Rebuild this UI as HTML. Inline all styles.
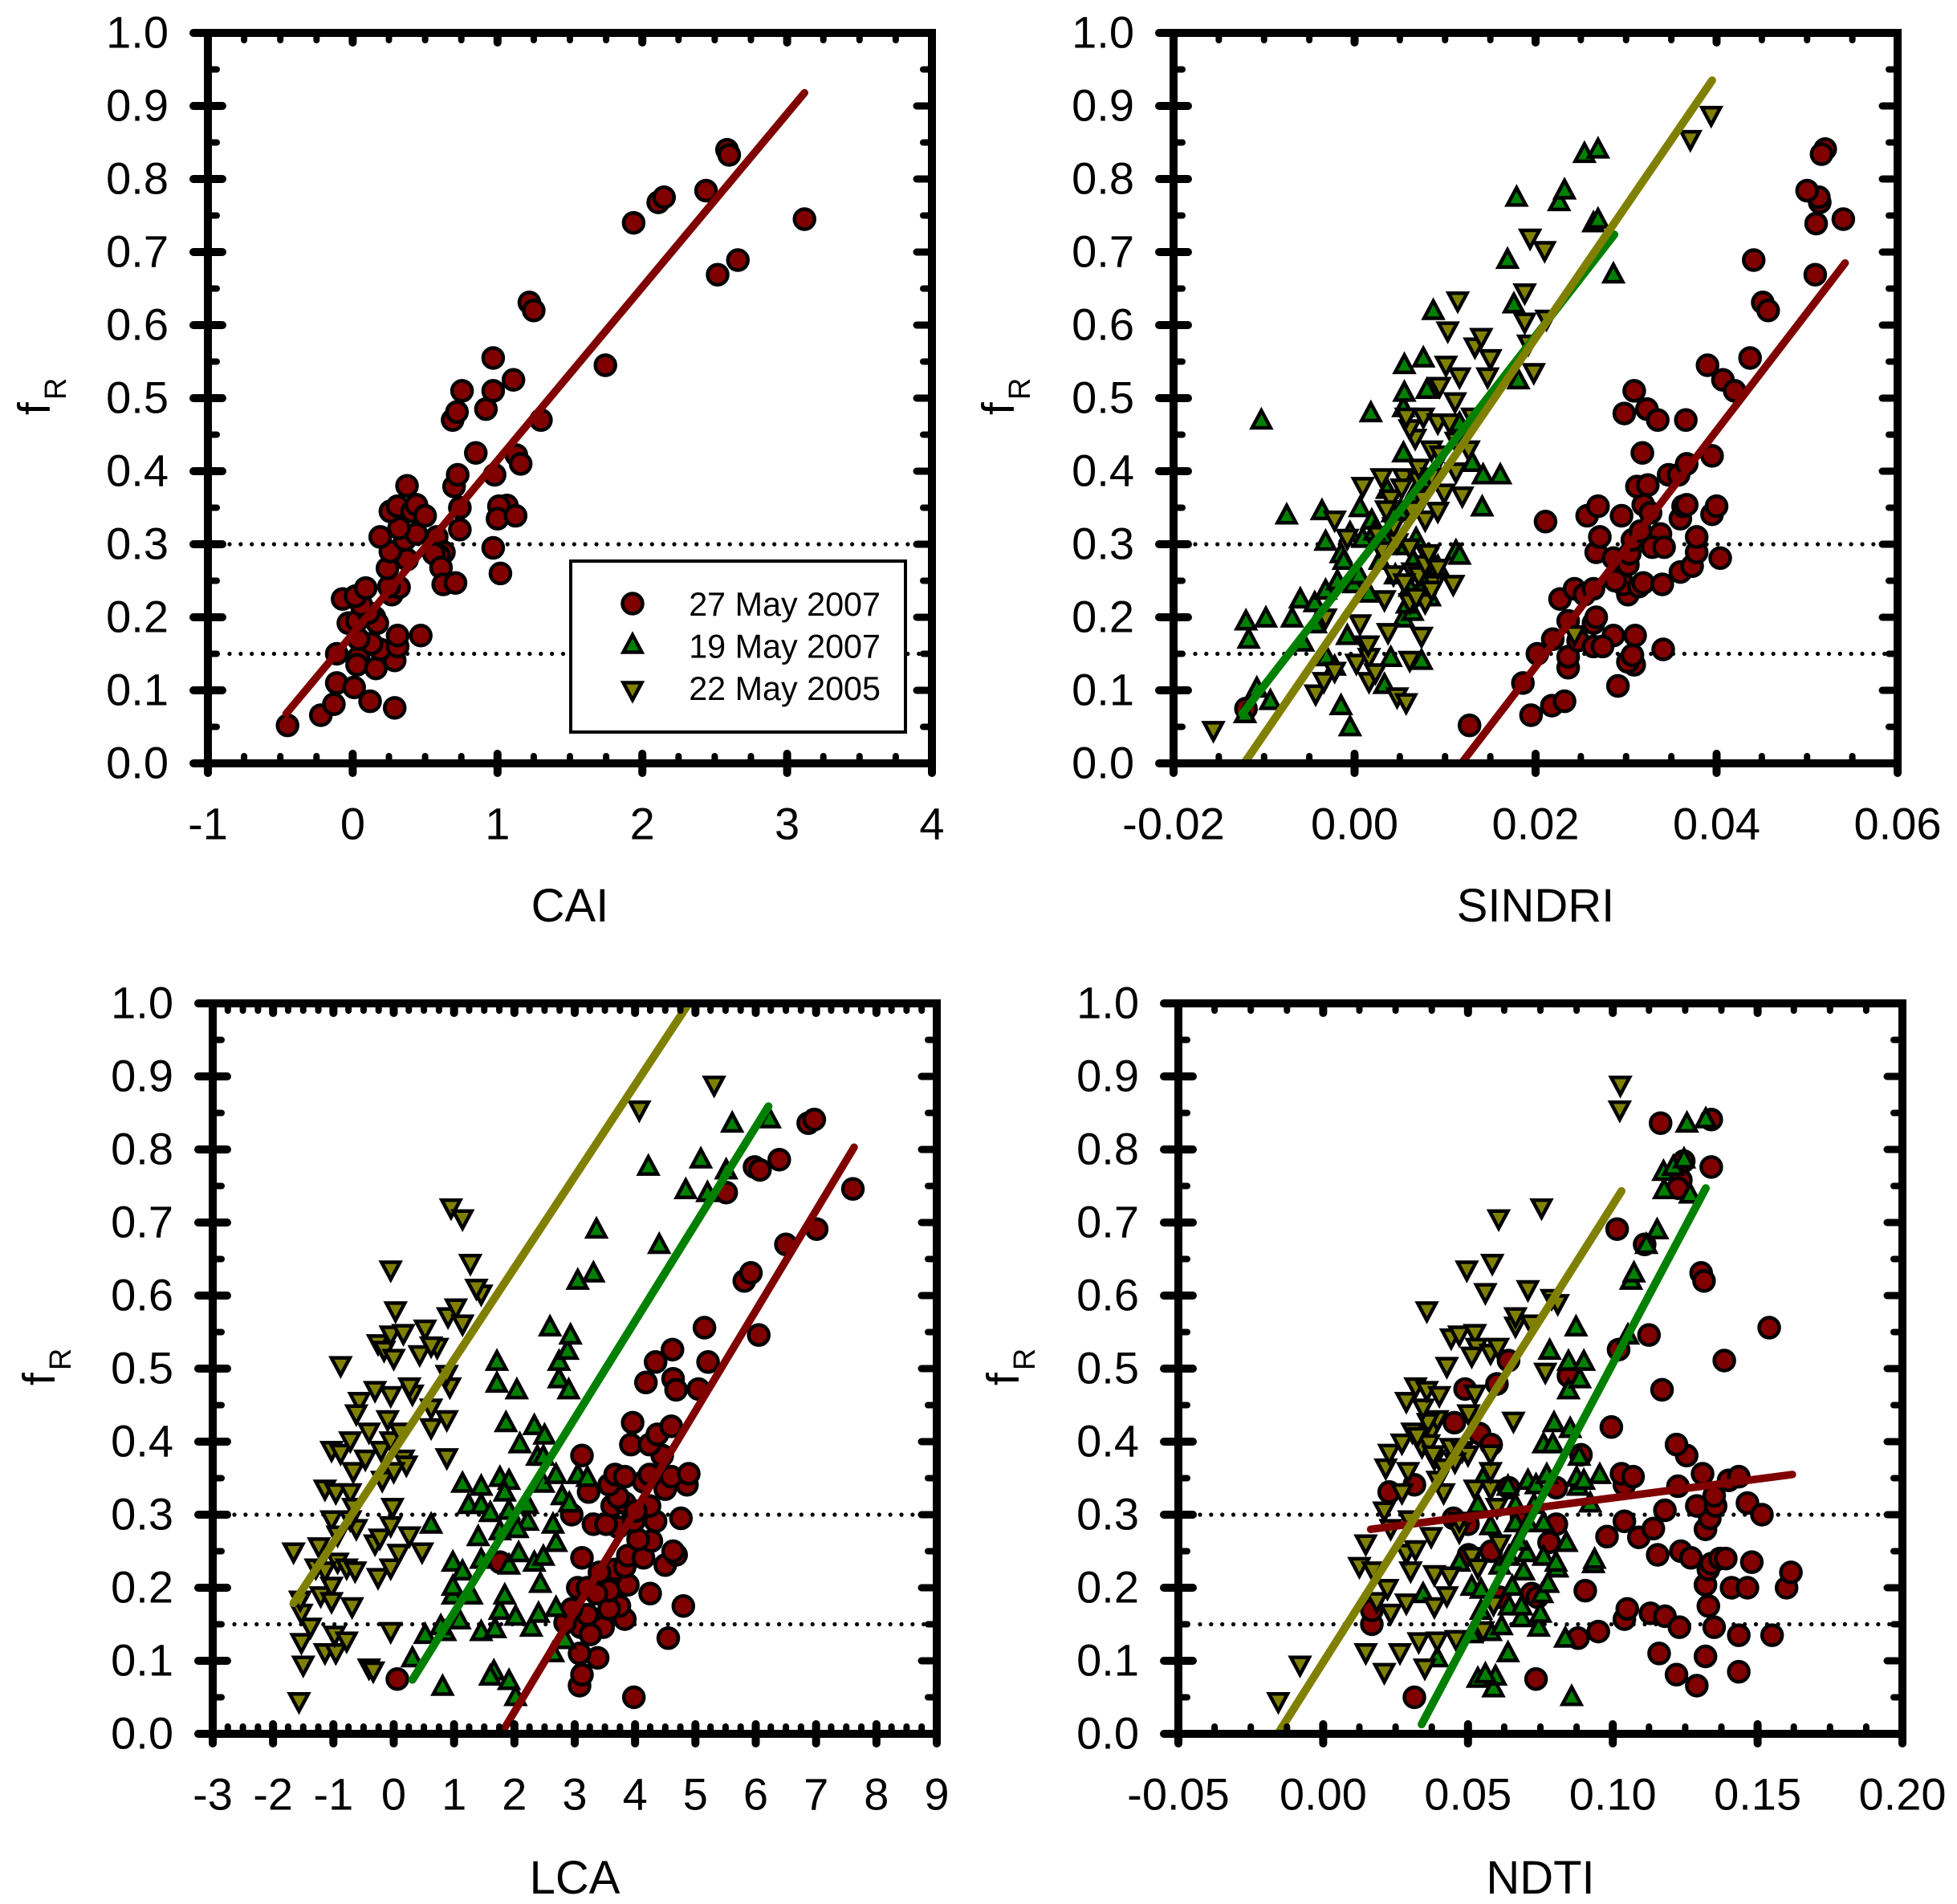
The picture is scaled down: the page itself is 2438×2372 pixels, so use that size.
<!DOCTYPE html>
<html>
<head>
<meta charset="utf-8">
<title>fR versus crop residue indices</title>
<style>
html,body{margin:0;padding:0;background:#fff;}
svg{display:block;}
text{font-family:"Liberation Sans",sans-serif;fill:#000;}
</style>
</head>
<body>
<svg id="chart" xmlns="http://www.w3.org/2000/svg" width="2438" height="2372" viewBox="0 0 2438 2372"></svg>
<script>
// ---------- Shared axis data ----------
const yTickLabels = ["0.0","0.1","0.2","0.3","0.4","0.5","0.6","0.7","0.8","0.9","1.0"];
const thresholdValues = [0.15, 0.3];
const seriesNames = ["27 May 2007","19 May 2007","22 May 2005"];

// ---------- CAI panel ----------
const caiTickLabels = ["-1","0","1","2","3","4"];
const caiRedX = [-.45,-.22,-.13,-.11,.01,.12,.29,-.11,.04,.03,.16,.29,.19,.13,.31,.31,.47,.04,-.03,.03,.15,.17,.11,.06,-.07,.02,.09,.27,.32,.25,.24,.375,.26,.19,.36,.44,.32,.26,.31,.41,.44,.5,.375,.58,.63,.595,.56,.61,.625,.71,.7,.725,.74,.74,.69,.72,.755,.85,.92,.97,.97,1.11,.98,1.065,1.01,1.0,1.125,.97,1.02,1.13,1.16,1.3,1.22,1.25,1.745,1.94,2.11,2.15,2.44,2.585,2.6,2.52,2.66,3.12];
const caiRedY = [.052,.066,.081,.11,.104,.085,.076,.15,.145,.135,.13,.141,.156,.164,.16,.175,.175,.17,.192,.195,.2,.192,.206,.217,.225,.229,.24,.231,.241,.242,.267,.279,.29,.31,.306,.314,.322,.345,.352,.345,.354,.339,.38,.31,.289,.285,.287,.268,.245,.247,.379,.395,.35,.32,.47,.481,.51,.425,.485,.51,.555,.525,.395,.353,.352,.335,.339,.295,.26,.422,.41,.47,.631,.62,.545,.74,.768,.775,.784,.84,.833,.669,.689,.745];
const caiRedLineX = [-.46,3.12];
const caiRedLineY = [.068,.918];

// ---------- SINDRI panel ----------
const sindriTickLabels = ["-0.02","0.00","0.02","0.04","0.06"];
const sindriRedX = [.0127,.0195,.0218,.0232,.0186,-.012,.0291,.0309,.0302,.0307,.0341,.031,.0286,.0202,.0219,.0236,.0236,.0247,.0264,.0274,.0236,.0264,.0267,.0227,.0243,.0254,.0264,.0302,.0297,.0288,.0314,.0319,.034,.036,.0373,.0404,.0267,.0286,.0302,.0304,.0271,.0307,.0316,.0338,.0329,.0342,.0378,.0378,.0211,.0257,.0269,.0295,.0319,.0327,.036,.0363,.0367,.0395,.04,.0312,.0324,.0347,.0358,.0367,.0395,.0318,.0298,.0323,.0335,.0366,.0309,.039,.0407,.042,.0437,.0441,.0451,.0457,.0509,.051,.0514,.0513,.05,.052,.0516,.054];
const sindriRedY = [.052,.066,.079,.085,.11,.075,.106,.135,.139,.148,.156,.175,.175,.15,.17,.131,.146,.168,.16,.16,.195,.192,.2,.225,.239,.231,.239,.231,.245,.25,.242,.247,.245,.262,.27,.281,.289,.281,.272,.287,.31,.306,.318,.314,.296,.296,.289,.31,.331,.339,.352,.339,.354,.343,.335,.352,.354,.341,.352,.379,.381,.395,.395,.41,.421,.425,.479,.485,.47,.47,.51,.545,.525,.51,.555,.689,.631,.62,.669,.739,.768,.775,.784,.841,.834,.745];
const sindriGreenX = [-.0121,-.0108,-.0093,-.0117,-.012,-.0098,-.0103,-.0075,-.0069,-.006,-.0044,-.0057,-.0043,-.0015,-.0005,-.0031,-.0022,-.0032,-.0019,-.0001,-.0032,-.0036,-.0015,-.0005,.0009,.0006,.0019,.0036,-.0008,.0016,.0033,.004,.0054,.0064,.0078,.0061,.0092,.0074,.005,.0054,.0054,.0055,.0055,.0076,.008,.0018,.0087,.0116,.013,.0142,.0161,.0141,.0112,.0116,.0181,.0169,.0176,.0179,.0226,.0232,.0254,.0269,.0264,.0269,.0286,.0028,.0045,.0035,.0048,.0005,.0065,.0072,.0083,.0058,.0042,.0022,.0068,.0075,.0065,-.0012];
const sindriGreenY = [.07,.105,.088,.172,.197,.201,.472,.342,.201,.227,.222,.168,.193,.081,.052,.148,.135,.239,.252,.248,.306,.348,.289,.318,.31,.352,.335,.377,.177,.235,.11,.147,.201,.21,.252,.243,.272,.143,.347,.427,.489,.51,.548,.557,.514,.482,.622,.468,.414,.397,.397,.353,.293,.287,.527,.692,.631,.777,.771,.787,.837,.843,.742,.747,.672,.28,.26,.31,.3,.26,.28,.24,.23,.22,.345,.32,.31,.39,.37,.28];
const sindriOliveX = [-.0156,-.0043,-.0034,-.0022,-.0032,.0002,.0012,.0016,.0016,.0023,.0006,.0037,.0047,.0057,.0061,.0074,.0033,.0061,.0078,.0088,.0109,.0043,.0064,.0081,.0061,.0078,.003,.0026,.0043,-.0008,-.0022,.0009,.003,.004,.0054,.0071,.0092,.0099,.0119,.0112,.0126,.0112,.0085,.0071,.0067,.0061,.0076,.0057,.0092,.0105,.013,.0111,.0094,.0101,.0116,.0147,.015,.0133,.014,.0103,.0114,.0188,.0212,.0188,.0192,.0198,.0194,.021,.0243,.0371,.0394,.0071,.0085,.0078,.0092,.0068,.0055,.0082,.0047,.0062,.0075,.0035,.0085,.0095,.0052,.0015];
const sindriOliveY = [.043,.093,.11,.124,.197,.135,.16,.143,.11,.122,.189,.177,.089,.081,.139,.172,.222,.218,.218,.243,.243,.256,.26,.281,.293,.331,.289,.31,.322,.306,.331,.377,.389,.36,.389,.385,.343,.368,.364,.397,.427,.439,.427,.402,.443,.456,.472,.472,.464,.464,.472,.493,.514,.543,.527,.527,.552,.568,.581,.59,.631,.602,.606,.642,.572,.533,.717,.7,.174,.852,.885,.255,.235,.27,.265,.225,.245,.285,.3,.345,.36,.345,.39,.42,.375,.16];
const sindriRedLineX = [.0118,.0542];
const sindriRedLineY = [0,.685];
const sindriGreenLineX = [-.0124,.0287];
const sindriGreenLineY = [.068,.724];
const sindriOliveLineX = [-.0122,.0395];
const sindriOliveLineY = [0,.935];

// ---------- LCA panel ----------
const lcaTickLabels = ["-3","-2","-1","0","1","2","3","4","5","6","7","8","9"];
const lcaRedX = [.06,3.98,3.08,3.12,3.38,3.08,4.55,3.1,3.47,3.26,2.84,3.83,4.8,3.74,3.57,3.21,2.95,4.25,3.57,3.88,3.05,3.21,3.36,3.67,3.41,4.5,4.68,4.63,3.83,3.88,3.12,1.76,4.14,4.27,4.05,3.72,3.31,3.52,3.98,4.34,4.76,2.95,3.62,3.83,4.24,4.01,3.72,3.23,3.57,4.14,4.5,4.86,3.67,3.83,4.24,4.6,4.89,3.12,4.45,3.96,3.93,4.24,4.37,4.6,4.18,4.34,4.62,4.63,4.68,5.05,5.21,5.15,6.05,5.81,5.92,6.5,7.01,5.51,5.98,6.07,6.39,6.87,6.97,7.61];
const lcaRedY = [.075,.05,.066,.081,.104,.11,.131,.146,.146,.136,.152,.157,.175,.175,.171,.163,.171,.192,.196,.204,.2,.2,.192,.225,.221,.231,.245,.25,.229,.244,.241,.235,.241,.264,.266,.283,.287,.287,.291,.291,.295,.3,.312,.316,.312,.305,.324,.331,.341,.345,.335,.341,.355,.352,.355,.352,.356,.381,.381,.426,.396,.396,.41,.421,.481,.509,.526,.486,.471,.472,.509,.556,.546,.62,.631,.67,.691,.741,.776,.772,.786,.836,.841,.746];
const lcaGreenX = [.31,.52,.81,.85,.78,1.09,.98,.98,.98,1.14,1.29,1.45,1.66,1.6,1.91,2.02,1.68,1.76,1.84,2.02,2.28,2.4,2.64,2.84,2.69,2.43,1.45,1.4,1.91,2.07,2.33,2.48,2.69,2.64,2.22,2.05,1.76,.62,1.14,1.24,1.45,1.45,1.6,1.76,1.91,1.84,1.91,2.22,2.48,2.69,2.79,2.91,3.05,3.21,1.86,2.09,2.33,2.5,2.38,2.48,1.71,1.71,2.04,2.74,2.74,2.9,2.88,2.93,2.59,3.05,3.31,3.36,4.4,4.22,4.84,5.2,5.09,5.51,5.61,6.23];
const lcaGreenY = [.106,.138,.067,.142,.15,.158,.192,.204,.237,.225,.192,.142,.088,.081,.075,.053,.146,.171,.192,.163,.148,.167,.113,.131,.175,.208,.241,.272,.233,.25,.237,.245,.264,.289,.293,.283,.28,.289,.345,.316,.341,.316,.305,.353,.349,.333,.308,.316,.345,.357,.328,.318,.357,.353,.428,.399,.424,.411,.382,.382,.482,.512,.473,.488,.512,.473,.527,.548,.559,.623,.633,.693,.672,.779,.747,.743,.789,.774,.838,.844];
const lcaOliveX = [-1.57,-1.5,-1.53,-1.38,-1.53,-1.55,-1.66,-1.24,-1.14,-.96,-.98,-.78,-.41,-.34,-.05,-1.21,-1.03,-1.03,-.69,-1.29,-.93,-1.14,-.78,-.64,-.26,-.05,.08,.47,.26,-.31,-.23,-.05,-.62,-1.03,-.93,-.72,-.02,-1.14,-.96,-.72,-.67,-.19,-.67,-.47,-1.03,-.88,-.72,-.41,-.21,-.05,.16,.21,0,.88,-.1,.1,.62,.88,.62,.31,.26,-.05,-.31,-.57,-.62,.93,.88,-.88,-.26,-.16,0,.43,-.05,.16,.52,.72,.62,.03,.9,1.03,1.14,-.05,1.45,1.37,1.27,.95,1.14,4.07,5.31];
const lcaOliveY = [.042,.092,.123,.144,.163,.181,.247,.254,.109,.109,.133,.125,.088,.084,.138,.187,.2,.179,.172,.225,.233,.221,.225,.221,.212,.225,.245,.247,.269,.258,.266,.283,.279,.291,.27,.291,.308,.333,.328,.328,.308,.345,.357,.374,.386,.382,.399,.411,.386,.399,.374,.366,.357,.376,.428,.411,.417,.428,.444,.463,.473,.461,.468,.453,.436,.473,.49,.502,.532,.523,.512,.517,.544,.546,.552,.527,.529,.577,.569,.581,.559,.633,.6,.608,.642,.718,.703,.852,.886];
const lcaRedLineX = [1.78,7.63];
const lcaRedLineY = [0,.803];
const lcaGreenLineX = [.31,6.21];
const lcaGreenLineY = [.074,.859];
const lcaOliveLineX = [-1.66,4.89];
const lcaOliveLineY = [.179,1.0];

// ---------- NDTI panel ----------
const ndtiTickLabels = ["-0.05","0.00","0.05","0.10","0.15","0.20"];
const ndtiRedX = [.0315,.0735,.0168,.0168,.129,.122,.116,.1435,.132,.1435,.155,.135,.088,.095,.104,.105,.113,.118,.123,.133,.0905,.072,.132,.141,.1465,.16,.1615,.148,.133,.134,.137,.139,.1235,.127,.1155,.109,.098,.114,.132,.104,.1335,.118,.129,.1355,.1465,.1515,.135,.104,.1225,.103,.107,.131,.14,.1435,.1255,.122,.0995,.117,.1385,.154,.1125,.102,.1305,.1315,.111,.1015,.1165,.134,.134,.1245,.1235,.1225,.045,.05,.0502,.058,.049,.06,.064,.0453,.054,.058,.0228,.0315,.064,.0805,.0805,.078,.089,.0847,.0685,.074,.061];
const ndtiRedY = [.05,.075,.15,.169,.066,.081,.11,.085,.106,.135,.135,.146,.131,.14,.157,.171,.165,.161,.146,.175,.196,.192,.204,.2,.2,.2,.221,.235,.225,.233,.24,.24,.25,.241,.245,.269,.27,.281,.28,.291,.295,.306,.312,.312,.316,.3,.326,.341,.339,.356,.352,.356,.347,.352,.381,.396,.42,.471,.511,.556,.546,.526,.631,.62,.67,.691,.836,.841,.776,.784,.758,.747,.295,.287,.245,.25,.472,.479,.511,.426,.411,.396,.331,.341,.337,.337,.287,.262,.382,.49,.295,.187,.187];
const ndtiGreenX = [.0858,.0588,.0595,.0534,.056,.0638,.0394,.0836,.0513,.0578,.0616,.0744,.075,.0685,.0642,.0685,.0545,.0345,.0513,.0545,.0653,.0756,.0776,.0692,.0808,.047,.061,.0642,.0703,.0761,.0804,.084,.0933,.0937,.0675,.0578,.0664,.0707,.0761,.0534,.0664,.0728,.0922,.0638,.0707,.0735,.088,.0552,.0772,.0875,.0955,.09,.0761,.0793,.0797,.0853,.0884,.0847,.0886,.0847,.09,.0782,.0873,.1052,.1063,.1073,.1116,.1153,.1177,.1267,.1175,.1209,.1246,.1256,.1321];
const ndtiGreenY = [.053,.065,.081,.078,.084,.113,.106,.133,.139,.142,.15,.148,.167,.161,.177,.177,.171,.194,.204,.2,.204,.194,.208,.225,.229,.237,.233,.245,.25,.245,.237,.264,.235,.241,.266,.287,.291,.291,.291,.316,.316,.316,.318,.341,.349,.343,.341,.352,.357,.353,.357,.349,.399,.399,.428,.42,.382,.473,.488,.512,.512,.527,.559,.548,.623,.633,.672,.692,.747,.741,.772,.779,.789,.838,.844];
const ndtiOliveX = [-.0155,-.008,.0147,.0211,.0265,.033,.0394,.0459,.0351,.0552,.0287,.0384,.0233,.0185,.0222,.0427,.0125,.0172,.0147,.0302,.0384,.0437,.0287,.0319,.0513,.0534,.0588,.061,.0373,.047,.047,.0297,.0211,.0233,.0272,.0416,.0524,.0578,.06,.0216,.0228,.0293,.0272,.0308,.0341,.0384,.0373,.0416,.047,.0578,.0578,.0502,.0657,.0394,.0362,.0287,.0345,.0319,.0358,.0401,.0524,.0427,.0767,.0442,.047,.0524,.053,.0513,.0578,.0603,.0358,.056,.0664,.0664,.0718,.0707,.0789,.081,.0496,.0584,.0606,.0754,.1024,.1026,.0365,.038,.044,.048,.05,.0455,.0395,.0325];
const ndtiOliveY = [.042,.092,.109,.082,.109,.124,.125,.127,.088,.139,.177,.172,.163,.179,.197,.187,.227,.221,.258,.221,.216,.214,.245,.25,.241,.225,.175,.258,.268,.274,.289,.291,.303,.279,.328,.328,.333,.333,.308,.362,.382,.357,.396,.411,.391,.374,.411,.362,.386,.357,.381,.436,.426,.428,.424,.453,.444,.473,.468,.461,.463,.501,.493,.54,.544,.546,.527,.515,.519,.527,.577,.602,.556,.569,.559,.606,.594,.587,.633,.642,.703,.718,.852,.886,.395,.38,.39,.385,.38,.37,.345,.405];
const ndtiRedLineX = [.0164,.162];
const ndtiRedLineY = [.28,.355];
const ndtiGreenLineX = [.034,.1321];
const ndtiGreenLineY = [.013,.747];
const ndtiOliveLineX = [-.0155,.103];
const ndtiOliveLineY = [.001,.743];

// ---------- Drawing ----------
const NS = "http://www.w3.org/2000/svg";
const svg = document.getElementById("chart");
const RED = "#800000", GREEN = "#008000", OLIVE = "#808000";

function mk(parent, tag, attrs) {
  const el = document.createElementNS(NS, tag);
  for (const k in attrs) el.setAttribute(k, attrs[k]);
  parent.appendChild(el);
  return el;
}

function drawLine(parent, name, x1, y1, x2, y2, width, color) {
  const el = mk(parent, "line", {x1:x1, y1:y1, x2:x2, y2:y2, stroke:color, "stroke-width":width, "stroke-linecap":"round"});
  
  
  return el;
}

function drawMarker(parent, name, shape, cx, cy, color) {
  let el;
  if (shape === "circle") {
    el = mk(parent, "circle", {cx:cx, cy:cy, r:12.5, fill:color, stroke:"#000", "stroke-width":4.5});
  } else {
    const d = shape === "up"
      ? "M" + (cx-11.5) + " " + (cy+11.5) + "L" + (cx+11.5) + " " + (cy+11.5) + "L" + cx + " " + (cy-10) + "Z"
      : "M" + (cx-11.5) + " " + (cy-11.5) + "L" + (cx+11.5) + " " + (cy-11.5) + "L" + cx + " " + (cy+10) + "Z";
    el = mk(parent, "path", {d:d, fill:color, stroke:"#000", "stroke-width":4.5, "stroke-linejoin":"miter", "stroke-miterlimit":10});
  }
  
  
  return el;
}

function drawSeries(parent, seriesName, shape, color, xs, ys, sx, sy) {
  const g = mk(parent, "g", {});
  
  
  const n = Math.min(xs.length, ys.length);
  for (let i = 0; i < n; i++) {
    drawMarker(g, "data-point", shape, sx(xs[i]), sy(ys[i]), color);
  }
}

function drawPanel(p) {
  const g = mk(svg, "g", {});
  
  

  const xMin = parseFloat(p.xLabels[0]);
  const xMax = parseFloat(p.xLabels[p.xLabels.length - 1]);
  const sx = v => p.left + (v - xMin) / (xMax - xMin) * (p.right - p.left);
  const sy = v => p.bottom - v * (p.bottom - p.top);

  // threshold dotted lines
  thresholdValues.forEach(v => {
    const el = mk(g, "line", {x1:p.left + 27, y1:sy(v), x2:p.right - 5, y2:sy(v), stroke:"#000", "stroke-width":5.2, "stroke-linecap":"round", "stroke-dasharray":"0 13.85"});
    
    
  });

  // markers then fits
  drawSeries(g, p.key + '-series-27-may-2007', "circle", RED, p.redX, p.redY, sx, sy);
  if (p.greenX) drawSeries(g, p.key + '-series-19-may-2007', "up", GREEN, p.greenX, p.greenY, sx, sy);
  if (p.oliveX) drawSeries(g, p.key + '-series-22-may-2005', "down", OLIVE, p.oliveX, p.oliveY, sx, sy);

  drawLine(g, p.key + '-fit-27-may-2007', sx(p.redLineX[0]), sy(p.redLineY[0]), sx(p.redLineX[1]), sy(p.redLineY[1]), 9.5, RED);
  if (p.greenLineX) drawLine(g, p.key + '-fit-19-may-2007', sx(p.greenLineX[0]), sy(p.greenLineY[0]), sx(p.greenLineX[1]), sy(p.greenLineY[1]), 10, GREEN);
  if (p.oliveLineX) drawLine(g, p.key + '-fit-22-may-2005', sx(p.oliveLineX[0]), sy(p.oliveLineY[0]), sx(p.oliveLineX[1]), sy(p.oliveLineY[1]), 10, OLIVE);

  // frame
  const frame = mk(g, "rect", {x:p.left, y:p.top, width:p.right - p.left, height:p.bottom - p.top, fill:"none", stroke:"#000", "stroke-width":10});
  
  

  // y ticks
  yTickLabels.forEach((lab, i) => {
    const v = parseFloat(lab);
    const y = sy(v);
    drawLine(g, 'y-major-tick', p.left - 18, y, p.left + 18, y, 10, "#000");
    drawLine(g, 'y-major-tick-right', p.right, y, p.right - 19, y, 9, "#000");
    const t = mk(g, "text", {x:p.left - 49, y:y + 18.5, "font-size":56, "text-anchor":"end"});
    t.textContent = lab;
    
    
    if (i < yTickLabels.length - 1) {
      const m = sy(v + 0.05);
      drawLine(g, 'y-minor-tick', p.left, m, p.left + 11, m, 8, "#000");
      drawLine(g, 'y-minor-tick-right', p.right, m, p.right - 11, m, 8, "#000");
    }
  });

  // x ticks
  p.xLabels.forEach((lab, i) => {
    const v = parseFloat(lab);
    const x = sx(v);
    drawLine(g, 'x-major-tick', x, p.bottom + 12, x, p.bottom - 12, 10, "#000");
    drawLine(g, 'x-major-tick-top', x, p.top, x, p.top + 12, 10, "#000");
    const t = mk(g, "text", {x:x, y:p.bottom + 94.5, "font-size":56, "text-anchor":"middle"});
    t.textContent = lab;
    
    
    if (i < p.xLabels.length - 1) {
      const next = parseFloat(p.xLabels[i + 1]);
      for (let k = 1; k < 4; k++) {
        const mx = sx(v + (next - v) * k / 4);
        drawLine(g, 'x-minor-tick', mx, p.bottom, mx, p.bottom - 9, 8, "#000");
        drawLine(g, 'x-minor-tick-top', mx, p.top, mx, p.top + 9, 8, "#000");
      }
    }
  });

  // x title
  const xt = mk(g, "text", {x:(p.left + p.right) / 2, y:p.bottom + p.titleOffset, "font-size":58, "text-anchor":"middle"});
  xt.textContent = p.xTitle;
  
  

  // y title
  const cy = (p.top + p.bottom) / 2 + 21;
  const yt = mk(g, "text", {transform:"translate(" + p.yTitleX + "," + cy + ") rotate(-90)", "font-size":57});
  
  
  const tf = mk(yt, "tspan", {});
  tf.textContent = "f";
  const tr = mk(yt, "tspan", {"font-size":38, dy:20, dx:3});
  tr.textContent = "R";
}

drawPanel({key:"cai", xTitle:"CAI", left:259, right:1161, top:41, bottom:951, yTitleX:62, titleOffset:197,
  xLabels:caiTickLabels, redX:caiRedX, redY:caiRedY, redLineX:caiRedLineX, redLineY:caiRedLineY});
drawPanel({key:"sindri", xTitle:"SINDRI", left:1462, right:2364, top:41, bottom:951, yTitleX:1263, titleOffset:197,
  xLabels:sindriTickLabels, redX:sindriRedX, redY:sindriRedY, greenX:sindriGreenX, greenY:sindriGreenY, oliveX:sindriOliveX, oliveY:sindriOliveY,
  redLineX:sindriRedLineX, redLineY:sindriRedLineY, greenLineX:sindriGreenLineX, greenLineY:sindriGreenLineY, oliveLineX:sindriOliveLineX, oliveLineY:sindriOliveLineY});
drawPanel({key:"lca", xTitle:"LCA", left:265, right:1167, top:1250, bottom:2160, yTitleX:68, titleOffset:199,
  xLabels:lcaTickLabels, redX:lcaRedX, redY:lcaRedY, greenX:lcaGreenX, greenY:lcaGreenY, oliveX:lcaOliveX, oliveY:lcaOliveY,
  redLineX:lcaRedLineX, redLineY:lcaRedLineY, greenLineX:lcaGreenLineX, greenLineY:lcaGreenLineY, oliveLineX:lcaOliveLineX, oliveLineY:lcaOliveLineY});
drawPanel({key:"ndti", xTitle:"NDTI", left:1468, right:2370, top:1250, bottom:2160, yTitleX:1269, titleOffset:199,
  xLabels:ndtiTickLabels, redX:ndtiRedX, redY:ndtiRedY, greenX:ndtiGreenX, greenY:ndtiGreenY, oliveX:ndtiOliveX, oliveY:ndtiOliveY,
  redLineX:ndtiRedLineX, redLineY:ndtiRedLineY, greenLineX:ndtiGreenLineX, greenLineY:ndtiGreenLineY, oliveLineX:ndtiOliveLineX, oliveLineY:ndtiOliveLineY});

// ---------- Legend ----------
const legend = mk(svg, "g", {});


const legendBox = mk(legend, "rect", {x:711, y:699, width:417, height:213, fill:"#fff", stroke:"#000", "stroke-width":4});


drawMarker(legend, "legend-marker-27-may-2007", "circle", 788, 752, RED);
drawMarker(legend, "legend-marker-19-may-2007", "up", 788, 801, GREEN);
drawMarker(legend, "legend-marker-22-may-2005", "down", 788, 862, OLIVE);
seriesNames.forEach((name, i) => {
  const t = mk(legend, "text", {x:1097, y:767 + i * 52.5, "font-size":41.3, "text-anchor":"end"});
  t.textContent = name;
  
  
});
</script>
</body>
</html>
